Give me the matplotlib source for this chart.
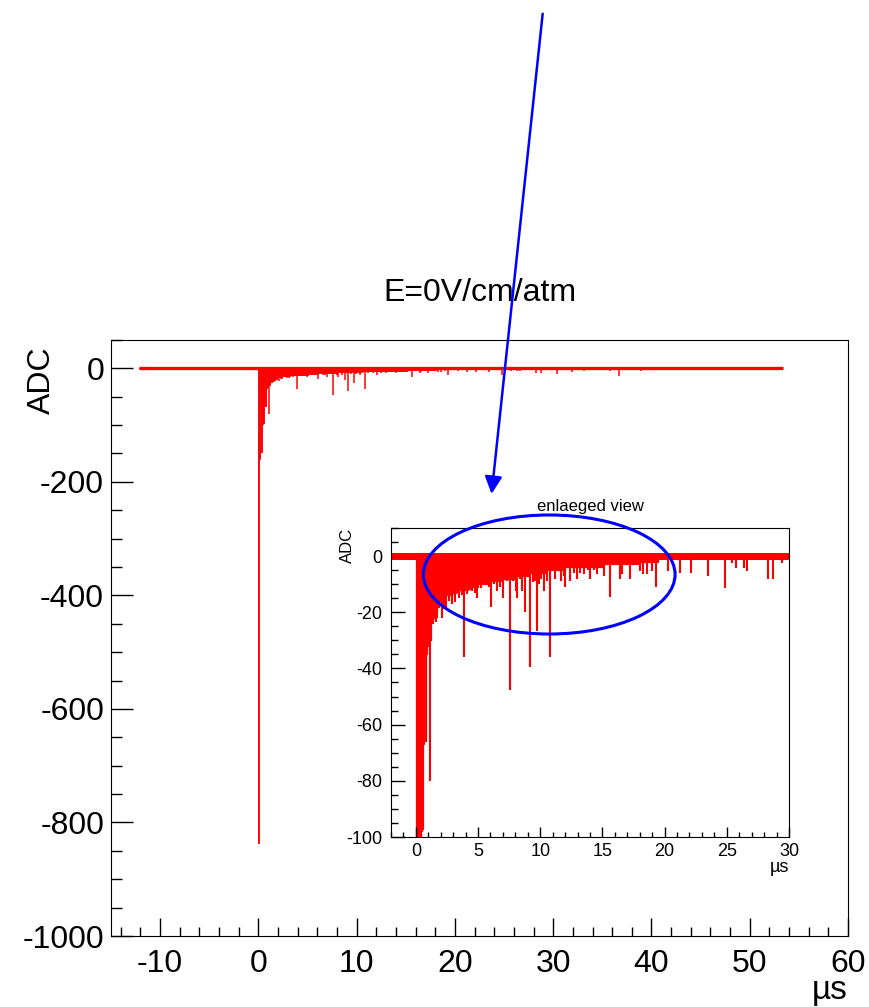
import matplotlib
matplotlib.use("Agg")
import matplotlib.pyplot as plt
from matplotlib.patches import Ellipse, FancyArrowPatch
from matplotlib.ticker import MultipleLocator

plt.rcParams['font.family'] = ['Liberation Sans', 'DejaVu Sans']
plt.rcParams['axes.unicode_minus'] = False

# Waveform: time in us, amplitude in ADC counts
trace_start, trace_end = -12.2, 53.4
noise_lo, noise_hi = -1.5, 1.0

# dense part right after the trigger (lower edge of the solid red region)
pulse_t = [0.00, 0.08, 0.16, 0.24, 0.32, 0.40, 0.48, 0.56, 0.64, 0.72, 0.80, 0.90,
           1.00, 1.10, 1.20, 1.35, 1.50, 1.70, 1.90, 2.10, 2.40, 2.80, 3.20, 3.70,
           4.20, 5.00, 6.00, 7.00, 8.00, 9.00, 10.5, 12.0, 13.5, 15.0, 16.5, 18.0, 19.5]
pulse_adc = [-836, -160, -62, -148, -110, -98, -97, -67, -66, -66, -35, -32,
             -28, -30, -24, -22, -20, -18, -16, -15, -14, -13, -12, -12,
             -11, -10, -9, -8, -7, -6, -5, -4, -4, -3, -3, -2, -2]

# single-bin dips after the pulse
spike_t = [1.12, 1.63, 1.70, 2.09, 2.25, 2.40, 2.67, 2.90, 3.13, 3.30, 3.47, 3.70,
           3.88, 4.14, 4.35, 4.54, 4.75, 4.94, 5.20, 5.40, 5.60, 5.85, 6.07, 6.30,
           6.55, 6.80, 7.03, 7.35, 7.60, 7.80, 8.02, 8.15, 8.40, 8.55, 8.77, 9.14,
           9.44, 9.60, 9.76, 9.89, 10.05, 10.29, 10.55, 10.80, 11.20, 11.63, 11.90,
           12.03, 12.43, 12.70, 12.97, 13.20, 13.50, 13.80, 14.03, 14.30, 14.57,
           15.10, 15.58, 16.44, 16.57, 17.24, 18.04, 18.30, 18.58, 18.98, 19.28,
           20.30, 21.25, 22.15, 23.47, 24.83, 25.40, 25.70, 26.36, 26.60, 28.30,
           28.72, 29.40, 30.40, 31.90, 33.10, 35.80, 36.70, 38.90]
spike_adc = [-80, -23.6, -22, -22, -19, -18, -16, -17, -16.5, -13, -14.8, -14,
             -36, -13.5, -12, -12.4, -13, -15, -11.2, -10, -9, -11, -18, -10,
             -12.4, -11, -14.8, -8.9, -47.6, -9, -12.4, -14.8, -8, -12.4, -20, -39.6,
             -9.4, -9, -26.6, -10, -8, -12.4, -9, -36, -8, -8.9, -7,
             -11, -8.9, -6, -8.3, -6, -6.5, -5, -8.3, -5, -6.5,
             -7.1, -14.5, -8.3, -6.5, -8, -5.3, -6.5, -6.5, -5.3, -11,
             -5.3, -5.9, -6, -7.1, -11.2, -2.4, -4.1, -4.1, -5.3, -8.3,
             -8.3, -2.4, -10, -6, -5, -5, -13.5, -5]


def draw_trace(ax, lw, base_lw):
    ax.fill_between([trace_start, trace_end], noise_lo, noise_hi, color='red', lw=0)
    ax.hlines(0, trace_start, trace_end, color='red', lw=base_lw)
    ax.fill_between(pulse_t, pulse_adc, 0, step='post', color='red', lw=lw * 0.6)
    ax.vlines(spike_t, spike_adc, 0, color='red', lw=lw)


fig = plt.figure(figsize=(8.7, 10.07), dpi=100)

# main pad
ax = fig.add_axes([0.1276, 0.0705, 0.8471, 0.5919])
draw_trace(ax, 1.1, 2.4)
ax.set_xlim(-15, 60)
ax.set_ylim(-1000, 50)
ax.xaxis.set_major_locator(MultipleLocator(10))
ax.xaxis.set_minor_locator(MultipleLocator(2))
ax.yaxis.set_major_locator(MultipleLocator(200))
ax.yaxis.set_minor_locator(MultipleLocator(50))
ax.tick_params(which='both', direction='in', top=False, right=False, width=1, labelsize=23)
ax.tick_params(axis='y', which='major', length=16, pad=5)
ax.tick_params(axis='y', which='minor', length=8)
ax.tick_params(axis='x', which='major', length=13, pad=9)
ax.tick_params(axis='x', which='minor', length=6.5)
ax.set_ylabel('ADC', fontsize=23, loc='top')
ax.yaxis.set_label_coords(-0.074, 0.99)
ax.set_xlabel('µs', fontsize=24, loc='right')
ax.xaxis.set_label_coords(1.0, -0.065)
fig.text(0.5511, 0.709, 'E=0V/cm/atm', ha='center', va='center', fontsize=23)

# enlarged view
axi = fig.add_axes([0.4494, 0.1688, 0.4575, 0.3069])
draw_trace(axi, 1.5, 1.5)
axi.set_xlim(-2, 30)
axi.set_ylim(-100, 10)
axi.xaxis.set_major_locator(MultipleLocator(5))
axi.xaxis.set_minor_locator(MultipleLocator(1))
axi.yaxis.set_major_locator(MultipleLocator(20))
axi.yaxis.set_minor_locator(MultipleLocator(5))
axi.tick_params(which='both', direction='in', top=False, right=False, width=1, labelsize=13)
axi.tick_params(axis='y', which='major', length=10, pad=6)
axi.tick_params(axis='y', which='minor', length=5)
axi.tick_params(axis='x', which='major', length=7, pad=4)
axi.tick_params(axis='x', which='minor', length=3.5)
axi.set_ylabel('ADC', fontsize=12, loc='top')
axi.yaxis.set_label_coords(-0.09, 1.0)
axi.set_xlabel('µs', fontsize=13, loc='right')
axi.xaxis.set_label_coords(1.0, -0.07)
axi.set_title('enlaeged view', fontsize=12, pad=12)

# annotations
ring = Ellipse((0.6313, 0.4295), 0.2893, 0.1182, transform=fig.transFigure,
               fill=False, edgecolor='blue', lw=2.2, zorder=10)
fig.add_artist(ring)
arrow = FancyArrowPatch((0.6241, 0.9891), (0.5647, 0.5068), transform=fig.transFigure,
                        arrowstyle='-|>', mutation_scale=26, color='blue', lw=1.8, zorder=10)
fig.add_artist(arrow)

fig.savefig('out.png', dpi=100)
